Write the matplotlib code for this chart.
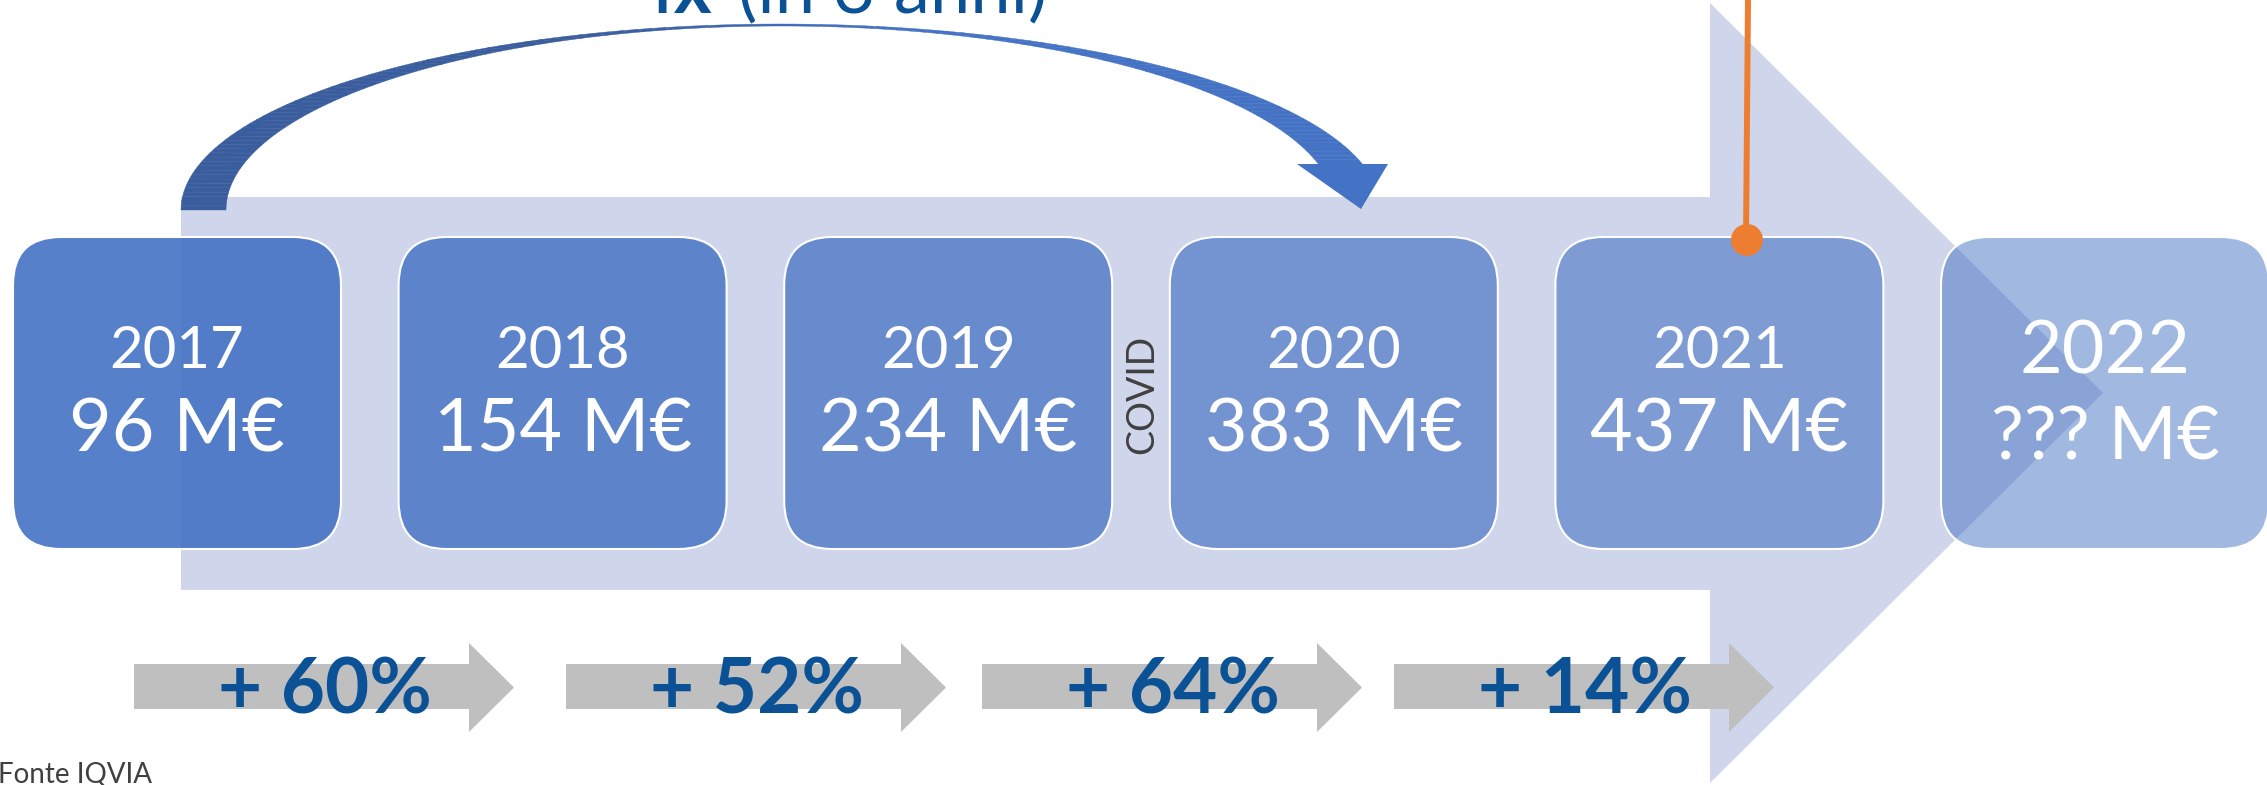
import numpy as np
import matplotlib.pyplot as plt
import matplotlib.patches as patches
from matplotlib.colors import to_rgba, to_rgb

plt.rcParams['font.family'] = ['Lato', 'DejaVu Sans']

# data
years = ["2017", "2018", "2019", "2020", "2021", "2022"]
revenue = ["96", "154", "234", "383", "437", "???"]
growth_pct = [60, 52, 64, 14]
title_bold = "4x"
title_rest = "(in 3 anni)"
covid_label = "COVID"
source_label = "Fonte IQVIA"

# layout (pixel units, y grows downward)
W, H = 2267, 785
BOX_X0, BOX_STEP, BOX_W = 13, 385.6, 328
BOX_TOP, BOX_H = 237, 312
PCT_X = [134, 566, 982, 1394]

BLUE = "#4472C4"
DARK_BLUE = "#3A5D9E"
TEXT_BLUE = "#0B5196"
BAND = "#CFD5EA"
GREY_ARROW = "#BFBFBF"
ORANGE = "#ED7D31"


def draw_band(ax):
    pts = [(181, 197), (1710, 197), (1710, 3), (2103, 393),
           (1710, 783), (1710, 590), (181, 590)]
    ax.add_patch(patches.Polygon(pts, closed=True, facecolor=BAND,
                                 edgecolor='none', zorder=1))


def draw_curved_arrow(ax):
    cx, cy = 781, 210
    ao, bo = 600, 186
    ai, bi = 555, 184
    t_out = np.arcsin(46 / bo)
    t_in = np.arcsin(46 / bi)
    # split the crescent in small pieces to blend dark -> light blue
    n = 120
    ts_o = np.linspace(np.pi, t_out, n + 1)
    ts_i = np.linspace(np.pi, t_in, n + 1)
    c0, c1 = np.array(to_rgb(DARK_BLUE)), np.array(to_rgb(BLUE))
    for k in range(n):
        tm = 0.5 * (ts_o[k] + ts_o[k + 1])
        f = np.clip((0.62 * np.pi - tm) / (0.2 * np.pi), 0, 1)
        f = f * f * (3 - 2 * f)
        col = c0 * (1 - f) + c1 * f
        quad = [
            (cx + ao * np.cos(ts_o[k]), cy - bo * np.sin(ts_o[k])),
            (cx + ao * np.cos(ts_o[k + 1]), cy - bo * np.sin(ts_o[k + 1])),
            (cx + ai * np.cos(ts_i[k + 1]), cy - bi * np.sin(ts_i[k + 1])),
            (cx + ai * np.cos(ts_i[k]), cy - bi * np.sin(ts_i[k])),
        ]
        ax.add_patch(patches.Polygon(quad, closed=True, facecolor=col,
                                     edgecolor=col, lw=0.3, zorder=2))
    head = [(1297, 164), (1388, 164), (1361, 209)]
    ax.add_patch(patches.Polygon(head, closed=True, facecolor=BLUE,
                                 edgecolor='none', zorder=2))


def draw_boxes(ax):
    for i, (yr, val) in enumerate(zip(years, revenue)):
        x0 = BOX_X0 + i * BOX_STEP
        alpha = 0.9 - 0.08 * i
        box = patches.FancyBboxPatch(
            (x0, BOX_TOP), BOX_W, BOX_H,
            boxstyle="round,pad=0,rounding_size=48",
            facecolor=to_rgba(BLUE, alpha), edgecolor='white', lw=1.5, zorder=3)
        ax.add_patch(box)
        xc = x0 + BOX_W / 2
        last = i == len(years) - 1
        ax.text(xc, 373 if last else 368, yr, color='white',
                fontsize=53 if last else 41.8, ha='center', va='baseline', zorder=5)
        ax.text(xc, 460 if last else 452, f"{val} M€", color='white',
                fontsize=53, ha='center', va='baseline', zorder=5)


def draw_growth(ax):
    for x0, g in zip(PCT_X, growth_pct):
        pts = [(x0, 664), (x0 + 335, 664), (x0 + 335, 643), (x0 + 380, 687.5),
               (x0 + 335, 732), (x0 + 335, 709), (x0, 709)]
        ax.add_patch(patches.Polygon(pts, closed=True, facecolor=GREY_ARROW,
                                     edgecolor='none', zorder=4))
        ax.text(x0 + 191, 714, f"+ {g}%", color=TEXT_BLUE, fontsize=55,
                fontweight='bold', ha='center', va='baseline', zorder=5)


def main():
    fig = plt.figure(figsize=(W / 100, H / 100), dpi=100)
    ax = fig.add_axes([0, 0, 1, 1])
    ax.set_xlim(0, W)
    ax.set_ylim(H, 0)
    ax.axis('off')

    draw_band(ax)
    draw_curved_arrow(ax)
    draw_boxes(ax)
    draw_growth(ax)

    # title (cut by the top edge as in the slide)
    ax.text(712, 13, title_bold, color=TEXT_BLUE, fontsize=52,
            fontweight='bold', ha='right', va='baseline', zorder=5)
    ax.text(738, 13, title_rest, color=TEXT_BLUE, fontsize=52,
            ha='left', va='baseline', zorder=5)

    # orange marker
    ax.plot([1748, 1746], [0, 240], color=ORANGE, lw=4.3,
            solid_capstyle='butt', zorder=6)
    ax.add_patch(patches.Circle((1747, 240), 16, facecolor=ORANGE,
                                edgecolor='none', zorder=6))

    ax.text(1142, 394, covid_label, color='#404040', fontsize=27,
            rotation=90, ha='center', va='center', zorder=5)
    ax.text(-2, 783, source_label, color='#404040', fontsize=20,
            ha='left', va='baseline', zorder=5)

    fig.savefig("out.png", dpi=100)
    plt.close(fig)


if __name__ == "__main__":
    main()
